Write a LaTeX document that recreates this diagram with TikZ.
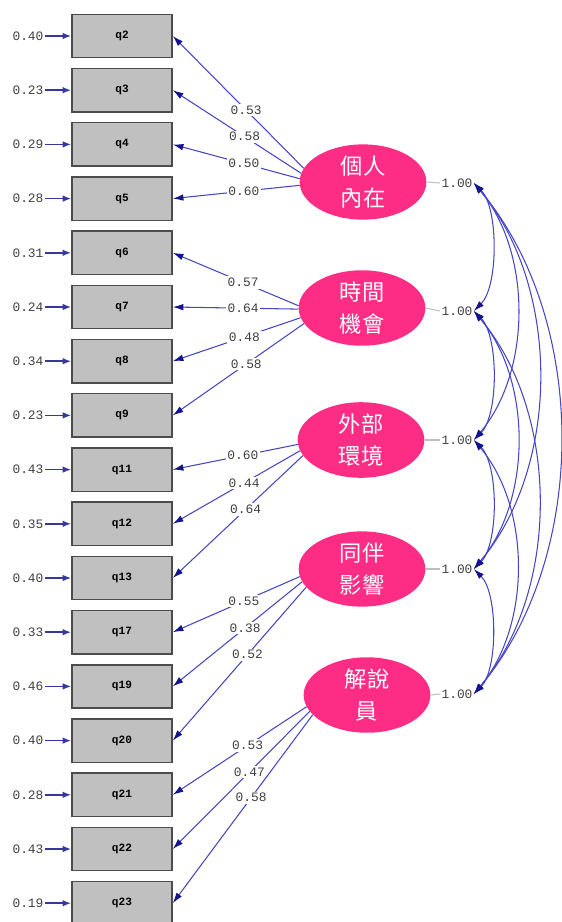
\documentclass[tikz,border=0pt]{standalone}
\usepackage{fontspec}
\setmonofont{Liberation Mono}
\newfontfamily\cjkfont{Noto Sans CJK TC}
\usepackage{tikz}
\usetikzlibrary{shapes.geometric, arrows.meta, calc}
\definecolor{LatPink}{RGB}{253,44,133}
\definecolor{PathBlue}{RGB}{70,70,195}
\definecolor{TipNavy}{RGB}{20,20,140}
\definecolor{BoxGray}{RGB}{192,192,192}

\begin{document}
\begin{tikzpicture}[x=0.03cm, y=-0.03cm,
          ind/.style={rectangle, draw=black!70, line width=1.3pt, fill=BoxGray,
                      minimum width=3cm, minimum height=1.3cm,
                      font=\ttfamily\bfseries\fontsize{9.5}{10}\selectfont},
          lat/.style={ellipse, fill=LatPink, draw=none, inner sep=0pt,
                      minimum width=3.8cm, minimum height=2cm,
                      text=white, align=center,
                      font=\cjkfont\fontsize{19}{28}\selectfont},
          num/.style={font=\ttfamily\fontsize{11}{12}\selectfont,
                      text=black!75, inner sep=1pt},
          lbl/.style={num, fill=white, inner sep=1.5pt},
          load/.style={draw=PathBlue, line width=0.9pt,
                       -{Latex[length=0.32cm, width=0.2cm, color=TipNavy]}},
          err/.style={draw=TipNavy!85, line width=1.4pt,
                      -{Latex[length=0.26cm, width=0.2cm]}},
          cov/.style={draw=PathBlue, line width=0.9pt,
                      {Latex[length=0.32cm, width=0.2cm, color=TipNavy]}-{Latex[length=0.32cm, width=0.2cm, color=TipNavy]}}
        ]
        \useasboundingbox (0,0) rectangle (562,922);

        % Indicators
        \node[ind] (q2)  at (122, 36.0) {q2};
        \node[ind] (q3)  at (122, 90.2) {q3};
        \node[ind] (q4)  at (122,144.4) {q4};
        \node[ind] (q5)  at (122,198.6) {q5};
        \node[ind] (q6)  at (122,252.8) {q6};
        \node[ind] (q7)  at (122,307.0) {q7};
        \node[ind] (q8)  at (122,361.2) {q8};
        \node[ind] (q9)  at (122,415.4) {q9};
        \node[ind] (q11) at (122,469.6) {q11};
        \node[ind] (q12) at (122,523.8) {q12};
        \node[ind] (q13) at (122,578.0) {q13};
        \node[ind] (q17) at (122,632.2) {q17};
        \node[ind] (q19) at (122,686.4) {q19};
        \node[ind] (q20) at (122,740.6) {q20};
        \node[ind] (q21) at (122,794.8) {q21};
        \node[ind] (q22) at (122,849.0) {q22};
        \node[ind] (q23) at (122,903.2) {q23};

        % Error variances
        \node[num] (e2)  at (28, 36.0) {0.40};
        \node[num] (e3)  at (28, 90.2) {0.23};
        \node[num] (e4)  at (28,144.4) {0.29};
        \node[num] (e5)  at (28,198.6) {0.28};
        \node[num] (e6)  at (28,252.8) {0.31};
        \node[num] (e7)  at (28,307.0) {0.24};
        \node[num] (e8)  at (28,361.2) {0.34};
        \node[num] (e9)  at (28,415.4) {0.23};
        \node[num] (e11) at (28,469.6) {0.43};
        \node[num] (e12) at (28,523.8) {0.35};
        \node[num] (e13) at (28,578.0) {0.40};
        \node[num] (e17) at (28,632.2) {0.33};
        \node[num] (e19) at (28,686.4) {0.46};
        \node[num] (e20) at (28,740.6) {0.40};
        \node[num] (e21) at (28,794.8) {0.28};
        \node[num] (e22) at (28,849.0) {0.43};
        \node[num] (e23) at (28,903.2) {0.19};
        \draw[err] (e2.east)  -- (q2.west);
        \draw[err] (e3.east)  -- (q3.west);
        \draw[err] (e4.east)  -- (q4.west);
        \draw[err] (e5.east)  -- (q5.west);
        \draw[err] (e6.east)  -- (q6.west);
        \draw[err] (e7.east)  -- (q7.west);
        \draw[err] (e8.east)  -- (q8.west);
        \draw[err] (e9.east)  -- (q9.west);
        \draw[err] (e11.east) -- (q11.west);
        \draw[err] (e12.east) -- (q12.west);
        \draw[err] (e13.east) -- (q13.west);
        \draw[err] (e17.east) -- (q17.west);
        \draw[err] (e19.east) -- (q19.west);
        \draw[err] (e20.east) -- (q20.west);
        \draw[err] (e21.east) -- (q21.west);
        \draw[err] (e22.east) -- (q22.west);
        \draw[err] (e23.east) -- (q23.west);

        % Latent factors
        \node[lat] (l1) at (363,182) {個人\\內在};
        \node[lat] (l2) at (362,308) {時間\\機會};
        \node[lat] (l3) at (361,440) {外部\\環境};
        \node[lat] (l4) at (362,569) {同伴\\影響};
        \node[lat] (l5) at (367,695) {解說\\員};

        % Loadings
        \draw[load] (l1.167) -- node[lbl, pos=0.44] {0.53} (q2.east);
        \draw[load] (l1.172) -- node[lbl, pos=0.44] {0.58} (q3.east);
        \draw[load] (l1.177) -- node[lbl, pos=0.44] {0.50} (q4.east);
        \draw[load] (l1.183) -- node[lbl, pos=0.44] {0.60} (q5.east);
        \draw[load] (l2.178) -- node[lbl, pos=0.44] {0.57} (q6.east);
        \draw[load] (l2.181) -- node[lbl, pos=0.44] {0.64} (q7.east);
        \draw[load] (l2.189) -- node[lbl, pos=0.44] {0.48} (q8.east);
        \draw[load] (l2.195) -- node[lbl, pos=0.44] {0.58} (q9.east);
        \draw[load] (l3.184) -- node[lbl, pos=0.44] {0.60} (q11.east);
        \draw[load] (l3.190) -- node[lbl, pos=0.44] {0.44} (q12.east);
        \draw[load] (l3.195) -- node[lbl, pos=0.44] {0.64} (q13.east);
        \draw[load] (l4.187) -- node[lbl, pos=0.44] {0.55} (q17.east);
        \draw[load] (l4.192) -- node[lbl, pos=0.44] {0.38} (q19.east);
        \draw[load] (l4.198) -- node[lbl, pos=0.44] {0.52} (q20.east);
        \draw[load] (l5.191) -- node[lbl, pos=0.44] {0.53} (q21.east);
        \draw[load] (l5.196) -- node[lbl, pos=0.44] {0.47} (q22.east);
        \draw[load] (l5.200) -- node[lbl, pos=0.44] {0.58} (q23.east);

        % Factor variances
        \node[num] (v1) at (457,183) {1.00};
        \node[num] (v2) at (457,311) {1.00};
        \node[num] (v3) at (457,440) {1.00};
        \node[num] (v4) at (457,569) {1.00};
        \node[num] (v5) at (457,694) {1.00};
        \draw[gray!50, line width=0.9pt] (l1.east) -- (v1.west);
        \draw[gray!50, line width=0.9pt] (l2.east) -- (v2.west);
        \draw[gray!50, line width=0.9pt] (l3.east) -- (v3.west);
        \draw[gray!50, line width=0.9pt] (l4.east) -- (v4.west);
        \draw[gray!50, line width=0.9pt] (l5.east) -- (v5.west);

        % Factor covariances
        \draw[cov] (v1.east) to[bend left=45, looseness=0.7] (v2.east);
        \draw[cov] (v2.east) to[bend left=45, looseness=0.7] (v3.east);
        \draw[cov] (v3.east) to[bend left=45, looseness=0.7] (v4.east);
        \draw[cov] (v4.east) to[bend left=45, looseness=0.7] (v5.east);
        \draw[cov] (v1.east) to[bend left=40, looseness=0.9] (v3.east);
        \draw[cov] (v2.east) to[bend left=40, looseness=0.9] (v4.east);
        \draw[cov] (v3.east) to[bend left=40, looseness=0.9] (v5.east);
        \draw[cov] (v1.east) to[bend left=40, looseness=0.9] (v4.east);
        \draw[cov] (v2.east) to[bend left=40, looseness=0.9] (v5.east);
        \draw[cov] (v1.east) to[bend left=40, looseness=0.9] (v5.east);
      \end{tikzpicture}
\end{document}
